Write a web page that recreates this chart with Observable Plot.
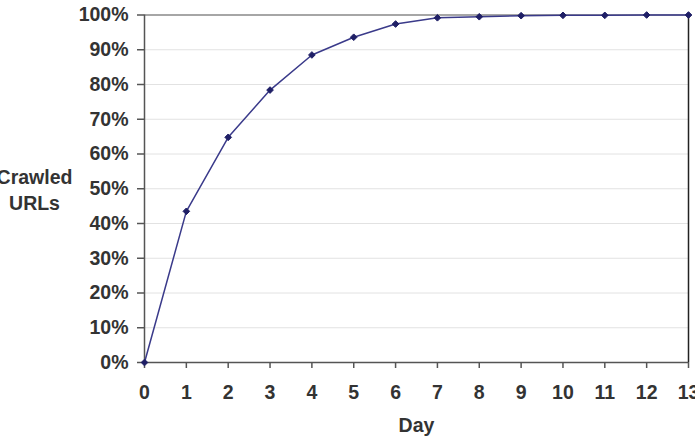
<!DOCTYPE html>
<html>
<head>
<meta charset="utf-8">
<script src="https://cdn.jsdelivr.net/npm/d3@7"></script>
<script src="https://cdn.jsdelivr.net/npm/@observablehq/plot@0.6"></script>
<style>
  html, body { margin: 0; padding: 0; background: #fff; }
  svg { display: block; }
</style>
</head>
<body>
<div id="chart"></div>
<script>
const days = [0, 1, 2, 3, 4, 5, 6, 7, 8, 9, 10, 11, 12, 13];
const crawled = [0, 43.5, 64.8, 78.4, 88.5, 93.6, 97.4, 99.2, 99.5, 99.8, 99.9, 99.9, 100, 100];
const yTicks = [0, 10, 20, 30, 40, 50, 60, 70, 80, 90, 100];
const xLabel = "Day";
const yLabel = "Crawled\nURLs";

const data = days.map((d, i) => ({day: d, pct: crawled[i]}));
const font = "Liberation Sans, Arial, sans-serif";
const fs = 19.5;

const chart = Plot.plot({
  width: 695,
  height: 444,
  marginLeft: 144,
  marginRight: 7,
  marginTop: 14.5,
  marginBottom: 82,
  style: {fontFamily: font, fontSize: fs + "px", fontWeight: "bold", color: "#333", background: "#fff"},
  x: {domain: [0, 13], ticks: days, label: null},
  y: {domain: [0, 100], ticks: yTicks, label: null},
  marks: [
    Plot.ruleY(yTicks.filter(t => t > 0 && t < 100), {stroke: "#e2e2e2", strokeWidth: 1}),
    Plot.ruleY([100], {stroke: "#888", strokeWidth: 1.5}),
    Plot.ruleX([13], {stroke: "#222", strokeWidth: 1.5}),
    Plot.ruleX([0], {stroke: "#555", strokeWidth: 1.5}),
    Plot.ruleY([0], {stroke: "#555", strokeWidth: 1.5}),
    Plot.axisX({ticks: days, tickSize: 6, tickPadding: 17, stroke: "#555", strokeWidth: 1.5, tickFormat: d => String(d), fontSize: fs, fill: "#333", label: null}),
    Plot.axisY({ticks: yTicks, tickSize: 7, tickPadding: 9, stroke: "#555", strokeWidth: 1.5, tickFormat: d => d + "%", fontSize: fs, fill: "#333", label: null}),
    Plot.line(data, {x: "day", y: "pct", stroke: "#3a3a8a", strokeWidth: 1.5}),
    Plot.dot(data, {x: "day", y: "pct", symbol: "diamond2", r: 3, fill: "#1f1f66", stroke: "#1f1f66", strokeWidth: 1}),
    Plot.text([xLabel], {frameAnchor: "bottom", dy: 69, fontSize: fs, fontWeight: "bold", fill: "#333"}),
    Plot.text([yLabel], {frameAnchor: "left", dx: -110, dy: 0, fontSize: fs, fontWeight: "bold", fill: "#333", lineHeight: 1.3, textAnchor: "middle"})
  ]
});
document.getElementById("chart").appendChild(chart);
</script>
</body>
</html>
